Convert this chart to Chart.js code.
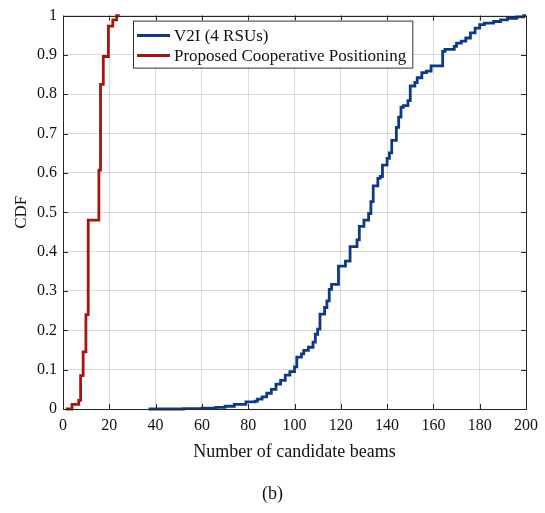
<!DOCTYPE html>
<html>
<head>
<meta charset="utf-8">
<script src="https://cdn.jsdelivr.net/npm/chart.js@4.4.0/dist/chart.umd.min.js"></script>
<style>
  html, body { margin: 0; padding: 0; background: #fff; }
  #wrap { width: 545px; height: 513px; }
</style>
</head>
<body>
<div id="wrap"><canvas id="cdf" width="545" height="513"></canvas></div>
<script>
// V2I (4 RSUs): beam counts where the empirical CDF steps, and the CDF after each step
const v2iBeams = [37, 52, 60, 66, 70, 74, 79, 83, 84, 86, 88, 90, 92, 94, 96, 98, 100, 101, 103, 104,
  106, 108, 109, 110, 111, 113, 114, 115, 116, 119, 122, 124, 127, 128, 130, 132, 133, 134, 136, 137,
  138, 140, 141, 142, 144, 145, 146, 147, 149, 150, 152, 153, 155, 157, 159, 164, 165, 169, 170, 172,
  174, 176, 178, 180, 182, 186, 189, 192, 196, 199, 200];
const v2iCdf = [0, 0.001, 0.002, 0.004, 0.007, 0.012, 0.018, 0.02, 0.025, 0.031, 0.04, 0.05, 0.063, 0.073, 0.086, 0.095, 0.107, 0.132, 0.14, 0.149,
  0.157, 0.17, 0.19, 0.203, 0.241, 0.258, 0.275, 0.304, 0.317, 0.363, 0.376, 0.413, 0.43, 0.464, 0.48, 0.497, 0.527, 0.567, 0.586, 0.591,
  0.62, 0.637, 0.651, 0.683, 0.716, 0.742, 0.767, 0.771, 0.784, 0.821, 0.83, 0.842, 0.855, 0.859, 0.872, 0.909, 0.914, 0.922, 0.93, 0.935,
  0.943, 0.956, 0.968, 0.977, 0.981, 0.985, 0.989, 0.993, 0.997, 1.0, 1.0];

// Proposed cooperative positioning
const coopBeams = [1.2, 3.9, 6.8, 7.6, 8.7, 9.9, 10.9, 15.5, 16.2, 17.4, 19.6, 21.5, 23.2, 24.5];
const coopCdf = [0, 0.012, 0.022, 0.085, 0.145, 0.24, 0.48, 0.607, 0.825, 0.896, 0.973, 0.989, 1.0, 1.0];

const xTicks = [0, 20, 40, 60, 80, 100, 120, 140, 160, 180, 200];
const yTicks = [0, 0.1, 0.2, 0.3, 0.4, 0.5, 0.6, 0.7, 0.8, 0.9, 1];
const seriesNames = ["V2I (4 RSUs)", "Proposed Cooperative Positioning"];
const seriesColors = ["#0e3a82", "#a2180e"];

const FONT = "'Liberation Serif', 'Times New Roman', serif";

function toPoints(xs, ys) {
  return xs.map((x, i) => ({ x: x, y: ys[i] }));
}

// matlab-like frame: box, inward ticks, legend inside the axes, panel tag
const framePlugin = {
  id: "frame",
  afterDraw(chart) {
    const { ctx, chartArea: a, scales } = chart;
    ctx.save();
    ctx.strokeStyle = "#262626";
    ctx.lineWidth = 1;
    ctx.beginPath();
    xTicks.forEach((v) => {
      const px = Math.round(scales.x.getPixelForValue(v)) + 0.5;
      ctx.moveTo(px, a.bottom); ctx.lineTo(px, a.bottom - 5);
      ctx.moveTo(px, a.top); ctx.lineTo(px, a.top + 5);
    });
    yTicks.forEach((v) => {
      const py = Math.round(scales.y.getPixelForValue(v)) + 0.5;
      ctx.moveTo(a.left, py); ctx.lineTo(a.left + 5, py);
      ctx.moveTo(a.right, py); ctx.lineTo(a.right - 5, py);
    });
    ctx.stroke();
    ctx.strokeRect(Math.round(a.left) + 0.5, Math.round(a.top) + 0.5,
      Math.round(a.width), Math.round(a.height));

    // legend
    ctx.font = "17px " + FONT;
    const textW = Math.max(...seriesNames.map((s) => ctx.measureText(s).width));
    const lx = a.left + 70, ly = a.top + 5;
    const rowH = 20;
    const boxW = 41 + textW + 6, boxH = rowH * seriesNames.length + 7;
    ctx.fillStyle = "#fff";
    ctx.fillRect(lx, ly, boxW, boxH);
    ctx.strokeStyle = "#333";
    ctx.strokeRect(lx + 0.5, ly + 0.5, boxW, boxH);
    ctx.textBaseline = "middle";
    ctx.textAlign = "left";
    seriesNames.forEach((name, i) => {
      const cy = ly + 15 + i * rowH;
      ctx.strokeStyle = seriesColors[i];
      ctx.lineWidth = 3;
      ctx.beginPath();
      ctx.moveTo(lx + 4, cy); ctx.lineTo(lx + 37, cy);
      ctx.stroke();
      ctx.fillStyle = "#111";
      ctx.fillText(name, lx + 41, cy + 1);
    });

    // panel tag under the axis title
    ctx.font = "18px " + FONT;
    ctx.textAlign = "center";
    ctx.fillText("(b)", (a.left + a.right) / 2 - 22, 494);
    ctx.restore();
  },
};

new Chart(document.getElementById("cdf"), {
  type: "line",
  data: {
    datasets: [
      {
        label: seriesNames[0],
        data: toPoints(v2iBeams, v2iCdf),
        borderColor: seriesColors[0],
        borderWidth: 2.8,
        stepped: "before",
        pointRadius: 0,
        fill: false,
        clip: false,
      },
      {
        label: seriesNames[1],
        data: toPoints(coopBeams, coopCdf),
        borderColor: seriesColors[1],
        borderWidth: 2.8,
        stepped: "before",
        pointRadius: 0,
        fill: false,
        clip: false,
      },
    ],
  },
  options: {
    responsive: false,
    animation: false,
    devicePixelRatio: 1,
    layout: { padding: { left: 0, top: 12, right: 17, bottom: 0 } },
    scales: {
      x: {
        type: "linear",
        min: 0,
        max: 200,
        afterBuildTicks: (scale) => { scale.ticks = xTicks.map((v) => ({ value: v })); },
        afterFit: (scale) => { scale.height = 104; },
        grid: { color: "rgba(0, 0, 0, 0.14)", drawTicks: false },
        border: { display: false },
        ticks: {
          padding: 7,
          color: "#111",
          font: { family: FONT, size: 16 },
        },
        title: {
          display: true,
          text: "Number of candidate beams",
          color: "#111",
          font: { family: FONT, size: 18 },
          padding: { top: 0, bottom: 50 },
        },
      },
      y: {
        type: "linear",
        min: 0,
        max: 1,
        afterBuildTicks: (scale) => { scale.ticks = yTicks.map((v) => ({ value: v })); },
        afterFit: (scale) => { scale.width = 63; },
        grid: { color: "rgba(0, 0, 0, 0.14)", drawTicks: false },
        border: { display: false },
        ticks: {
          padding: 6,
          color: "#111",
          font: { family: FONT, size: 16 },
          callback: (v) => String(Number(v.toFixed(1))),
        },
        title: {
          display: true,
          text: "CDF",
          color: "#111",
          font: { family: FONT, size: 17 },
          padding: { top: 11, bottom: 0 },
        },
      },
    },
    plugins: {
      legend: { display: false },
      tooltip: { enabled: false },
    },
  },
  plugins: [framePlugin],
});
</script>
</body>
</html>
